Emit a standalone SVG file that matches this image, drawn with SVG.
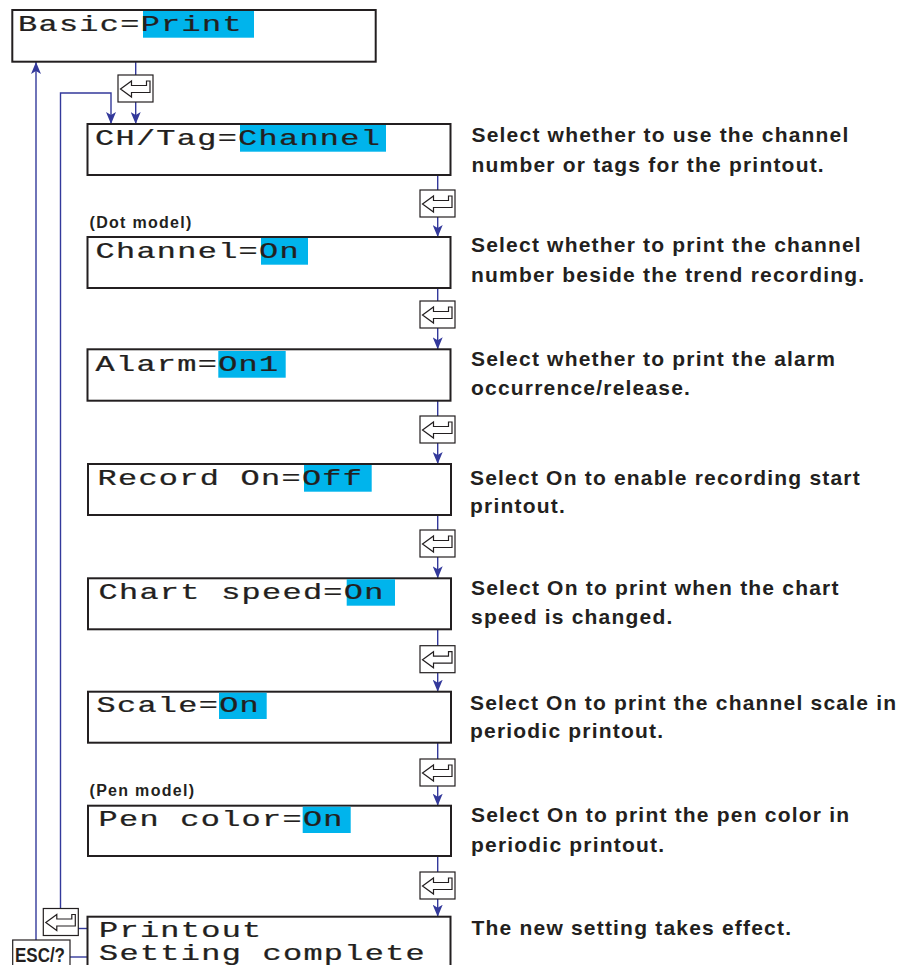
<svg xmlns="http://www.w3.org/2000/svg" xmlns:xlink="http://www.w3.org/1999/xlink" width="910" height="965" viewBox="0 0 910 965">
<style>
.box{fill:#fff;stroke:#231f20;stroke-width:2}
.hl{fill:#00b4ec}
.mono{font-family:"Liberation Mono","Courier New",monospace;font-size:22px;fill:#231f20;stroke:#231f20;stroke-width:0.25px;letter-spacing:0.9px}
.desc{font-family:"Liberation Sans",Arial,Helvetica,sans-serif;font-weight:bold;font-size:21px;fill:#231f20;letter-spacing:1.2px}
.lbl{font-family:"Liberation Sans",Arial,Helvetica,sans-serif;font-weight:bold;font-size:16px;fill:#231f20;letter-spacing:1.3px}
.esc{font-family:"Liberation Sans Narrow","Liberation Sans",Arial,sans-serif;font-weight:bold;font-size:20px;fill:#231f20}
.conn{fill:none;stroke:#33399b;stroke-width:1.4}
.keyr{fill:#fff;stroke:#231f20;stroke-width:1.2}
.keyi{fill:#fff;stroke:#231f20;stroke-width:1.2;stroke-linejoin:miter}
</style>
<defs>
<marker id="ah" viewBox="0 0 12 10" refX="12" refY="5" markerWidth="12" markerHeight="10" markerUnits="userSpaceOnUse" orient="auto">
<path d="M0,0 L12,5 L0,10 L3,5 Z" fill="#33399b"/>
</marker>
<g id="key">
<rect class="keyr" x="0" y="0" width="35" height="27"/>
<path class="keyi" d="M2.5,14 L13.5,6 L13.5,10.5 L28.5,10.5 L28.5,6 L32,6 L32,17.5 L13.5,17.5 L13.5,22 Z"/>
</g>
</defs>

<g id="connectors">
<path class="conn" d="M135.7,62 V75"/>
<path class="conn" d="M135.7,102 V124" marker-end="url(#ah)"/>
<path class="conn" d="M60.5,909 V93 H111 V124" marker-end="url(#ah)"/>
<path class="conn" d="M36,940 V62" marker-end="url(#ah)"/>
<path class="conn" d="M437.7,175 V190"/>
<path class="conn" d="M437.7,217 V237" marker-end="url(#ah)"/>
<path class="conn" d="M437.7,288 V301"/>
<path class="conn" d="M437.7,328 V349.3" marker-end="url(#ah)"/>
<path class="conn" d="M437.7,400.7 V416"/>
<path class="conn" d="M437.7,443 V464" marker-end="url(#ah)"/>
<path class="conn" d="M437.7,515 V530"/>
<path class="conn" d="M437.7,557 V578.3" marker-end="url(#ah)"/>
<path class="conn" d="M437.7,629.3 V645.7"/>
<path class="conn" d="M437.7,672.7 V691.7" marker-end="url(#ah)"/>
<path class="conn" d="M437.7,742.7 V759"/>
<path class="conn" d="M437.7,786 V805.7" marker-end="url(#ah)"/>
<path class="conn" d="M437.7,856 V872"/>
<path class="conn" d="M437.7,899 V916.7" marker-end="url(#ah)"/>
<path class="conn" d="M78,928.5 H87.5"/>
<path class="conn" d="M70,957 H87.5"/>
</g>

<g id="keys">
<use xlink:href="#key" x="118" y="75"/>
<use xlink:href="#key" x="420" y="190"/>
<use xlink:href="#key" x="420" y="301"/>
<use xlink:href="#key" x="420" y="416"/>
<use xlink:href="#key" x="420" y="530"/>
<use xlink:href="#key" x="420" y="645.7"/>
<use xlink:href="#key" x="420" y="759"/>
<use xlink:href="#key" x="420" y="872"/>
<use xlink:href="#key" x="43.3" y="908.5"/>
</g>

<g id="esc">
<rect class="keyr" x="12.7" y="940" width="57.3" height="30"/>
<text class="esc" x="15" y="962" textLength="50" lengthAdjust="spacingAndGlyphs">ESC/?</text>
</g>

<g id="n-basic">
<rect class="box" x="12.3" y="10" width="363.4" height="51.7"/>
<rect class="hl" x="143" y="11" width="111" height="26.7"/>
<text class="mono" transform="translate(18,30.5) scale(1.45,1)">Basic=Print</text>
</g>

<g id="n-chtag">
<rect class="box" x="87.5" y="124" width="363" height="51"/>
<rect class="hl" x="240" y="125" width="146" height="26.7"/>
<text class="mono" transform="translate(95,145) scale(1.45,1)">CH/Tag=Channel</text>
<text class="desc" x="471.5" y="142.3">Select whether to use the channel</text>
<text class="desc" x="471.5" y="171.7">number or tags for the printout.</text>
</g>

<g id="n-channel">
<text class="lbl" x="89.5" y="228.3">(Dot model)</text>
<rect class="box" x="87.5" y="237" width="363" height="51"/>
<rect class="hl" x="261" y="238" width="47" height="26.7"/>
<text class="mono" transform="translate(95.5,258) scale(1.45,1)">Channel=On</text>
<text class="desc" x="471" y="252.3">Select whether to print the channel</text>
<text class="desc" x="471" y="281.7">number  beside the trend recording.</text>
</g>

<g id="n-alarm">
<rect class="box" x="87.5" y="349.3" width="363" height="51.4"/>
<rect class="hl" x="218.3" y="351" width="67.4" height="26.7"/>
<text class="mono" transform="translate(95.5,370.5) scale(1.45,1)">Alarm=On1</text>
<text class="desc" x="471" y="366">Select whether to print the alarm</text>
<text class="desc" x="471" y="395">occurrence/release.</text>
</g>

<g id="n-record">
<rect class="box" x="88" y="464" width="363" height="51"/>
<rect class="hl" x="304" y="465" width="67.7" height="26.7"/>
<text class="mono" transform="translate(97.5,484.5) scale(1.45,1)">Record On=Off</text>
<text class="desc" x="470" y="485">Select On to enable recording start</text>
<text class="desc" x="470" y="512.7">printout.</text>
</g>

<g id="n-chart">
<rect class="box" x="88" y="578.3" width="363" height="51"/>
<rect class="hl" x="346.7" y="579.3" width="48.3" height="26.4"/>
<text class="mono" transform="translate(98.5,598.5) scale(1.45,1)">Chart speed=On</text>
<text class="desc" x="471" y="595">Select On to print when the chart</text>
<text class="desc" x="471" y="624">speed is changed.</text>
</g>

<g id="n-scale">
<rect class="box" x="88" y="691.7" width="363" height="51"/>
<rect class="hl" x="219" y="692.7" width="47.7" height="26.3"/>
<text class="mono" transform="translate(96.5,711.7) scale(1.45,1)">Scale=On</text>
<text class="desc" x="470" y="710">Select On to print the channel scale in</text>
<text class="desc" x="470" y="738.3">periodic printout.</text>
</g>

<g id="n-pen">
<text class="lbl" x="89.5" y="796">(Pen model)</text>
<rect class="box" x="88" y="805.7" width="363" height="50.3"/>
<rect class="hl" x="302.7" y="806.7" width="48" height="26.3"/>
<text class="mono" transform="translate(98.5,825.5) scale(1.45,1)">Pen color=On</text>
<text class="desc" x="471" y="822.3">Select On to print the pen color in</text>
<text class="desc" x="471" y="851.7">periodic printout.</text>
</g>

<g id="n-complete">
<rect class="box" x="87.5" y="916.7" width="363" height="55"/>
<text class="mono" transform="translate(99,936.5) scale(1.45,1)">Printout</text>
<text class="mono" transform="translate(99,960) scale(1.45,1)">Setting complete</text>
<text class="desc" x="471.5" y="935">The new setting takes effect.</text>
</g>
</svg>
